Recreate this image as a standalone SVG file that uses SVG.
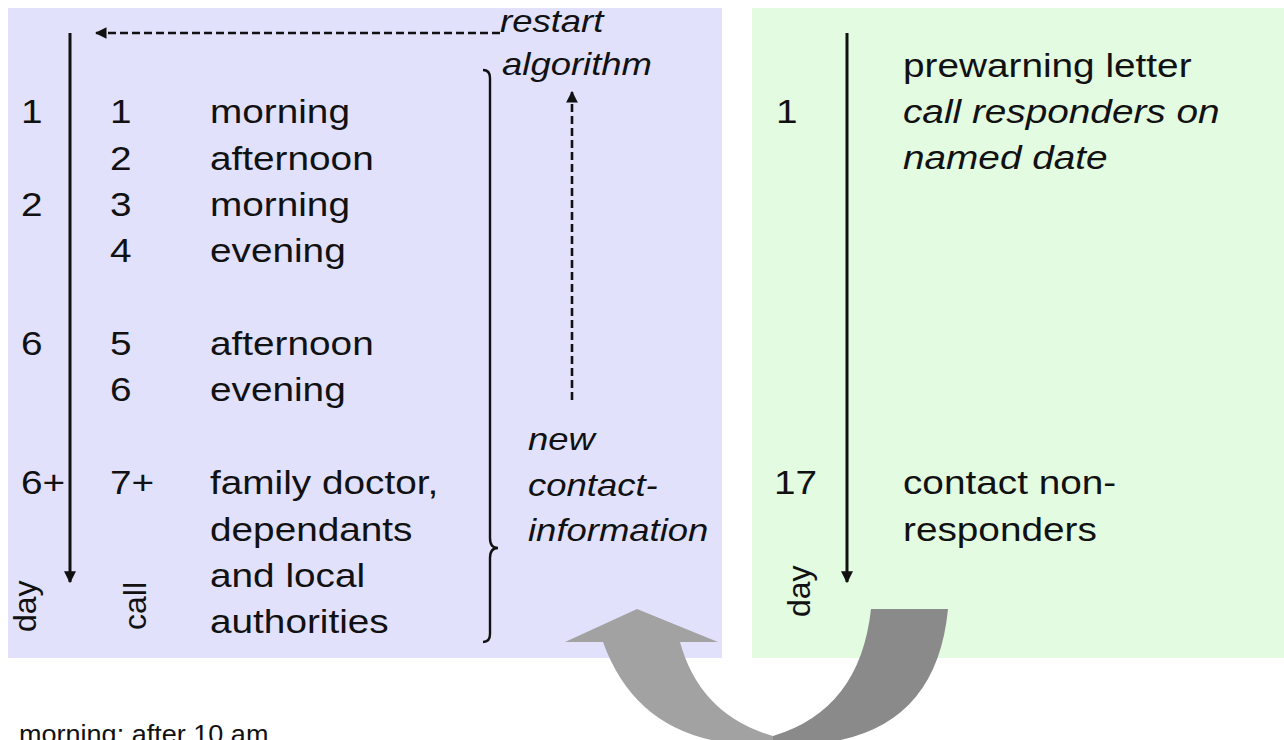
<svg xmlns="http://www.w3.org/2000/svg" width="1284" height="740" viewBox="0 0 1284 740">
<defs>
<style>
.t{font-family:"Liberation Sans",Arial,sans-serif;font-size:34px;fill:#111}
.i{font-family:"Liberation Sans",Arial,sans-serif;font-size:34px;font-style:italic;fill:#111}
.s{font-family:"Liberation Sans",Arial,sans-serif;font-size:32px;font-style:italic;fill:#111}
.r{font-family:"Liberation Sans",Arial,sans-serif;font-size:32px;fill:#111}
.f{font-family:"Liberation Sans",Arial,sans-serif;font-size:26px;fill:#111}
.axis{stroke:#111;stroke-width:3;fill:none}
.dash{stroke:#111;stroke-width:2.6;stroke-dasharray:8 4;fill:none}
.brace{stroke:#111;stroke-width:2.4;fill:none}
</style>
<marker id="ah" viewBox="0 0 10 10" refX="9" refY="5" markerWidth="4" markerHeight="4" orient="auto" markerUnits="strokeWidth">
<path d="M0,0 L10,5 L0,10 Z" fill="#111"/>
</marker>
<marker id="ahd" viewBox="0 0 10 10" refX="9" refY="5" markerWidth="4.5" markerHeight="4.5" orient="auto" markerUnits="strokeWidth">
<path d="M0,0 L10,5 L0,10 Z" fill="#111"/>
</marker>
</defs>
<rect width="1284" height="740" fill="#ffffff"/>
<g id="panel-left">
<rect x="8" y="8" width="714" height="650" fill="#e1e1fb"/>
</g>
<g id="panel-right">
<rect x="752" y="8" width="532" height="650" fill="#e3fbe1"/>
</g>
<g id="connectors">
<line class="axis" x1="70" y1="33" x2="70" y2="582" marker-end="url(#ah)"/>
<line class="axis" x1="847" y1="33" x2="847" y2="582" marker-end="url(#ah)"/>
<line class="dash" x1="500" y1="33" x2="96" y2="33" marker-end="url(#ahd)"/>
<line class="dash" x1="572" y1="400" x2="572" y2="92" marker-end="url(#ahd)"/>
<path class="brace" d="M483,70 Q490,70 490,78 L490,538 Q490,548 498,548 Q490,548 490,558 L490,634 Q490,642 483,642"/>
</g>
<g id="cycle-arrow">
<path d="M637,609 L718,642 L680,642 Q700,715 773,736 L773,745 L760,745 Q640,745 603,642 L565,642 Z" fill="#a2a2a2"/>
<path d="M871,609 L948,609 Q935,745 790,745 L773,745 L773,736 Q860,710 871,609 Z" fill="#8a8a8a"/>
</g>
<g id="left-days">
<text class="t" transform="translate(21 123) scale(1.14 1)">1</text>
<text class="t" transform="translate(21 216) scale(1.14 1)">2</text>
<text class="t" transform="translate(21 355) scale(1.14 1)">6</text>
<text class="t" transform="translate(21 494) scale(1.14 1)">6+</text>
<text class="r" transform="translate(36 632) rotate(-90)">day</text>
</g>
<g id="left-calls">
<text class="t" transform="translate(110 123) scale(1.14 1)">1</text>
<text class="t" transform="translate(110 170) scale(1.14 1)">2</text>
<text class="t" transform="translate(110 216) scale(1.14 1)">3</text>
<text class="t" transform="translate(110 262) scale(1.14 1)">4</text>
<text class="t" transform="translate(110 355) scale(1.14 1)">5</text>
<text class="t" transform="translate(110 401) scale(1.14 1)">6</text>
<text class="t" transform="translate(110 494) scale(1.14 1)">7+</text>
<text class="r" transform="translate(146 630) rotate(-90)">call</text>
</g>
<g id="left-times">
<text class="t" transform="translate(210 123) scale(1.14 1)">morning</text>
<text class="t" transform="translate(210 170) scale(1.14 1)">afternoon</text>
<text class="t" transform="translate(210 216) scale(1.14 1)">morning</text>
<text class="t" transform="translate(210 262) scale(1.14 1)">evening</text>
<text class="t" transform="translate(210 355) scale(1.14 1)">afternoon</text>
<text class="t" transform="translate(210 401) scale(1.14 1)">evening</text>
<text class="t" transform="translate(210 494) scale(1.14 1)">family doctor,</text>
<text class="t" transform="translate(210 541) scale(1.14 1)">dependants</text>
<text class="t" transform="translate(210 587) scale(1.14 1)">and local</text>
<text class="t" transform="translate(210 633) scale(1.14 1)">authorities</text>
</g>
<g id="restart-label">
<text class="s" transform="translate(500 32) scale(1.14 1)">restart</text>
<text class="s" transform="translate(502 75) scale(1.14 1)">algorithm</text>
</g>
<g id="new-contact-label">
<text class="s" transform="translate(528 450) scale(1.14 1)">new</text>
<text class="s" transform="translate(528 496) scale(1.14 1)">contact-</text>
<text class="s" transform="translate(528 541) scale(1.14 1)">information</text>
</g>
<g id="right-days">
<text class="t" transform="translate(776 123) scale(1.14 1)">1</text>
<text class="t" transform="translate(774 494) scale(1.14 1)">17</text>
<text class="r" transform="translate(810 617) rotate(-90)">day</text>
</g>
<g id="right-steps">
<text class="t" transform="translate(903 77) scale(1.14 1)">prewarning letter</text>
<text class="i" transform="translate(903 123) scale(1.14 1)">call responders on</text>
<text class="i" transform="translate(903 169) scale(1.14 1)">named date</text>
<text class="t" transform="translate(903 494) scale(1.14 1)">contact non-</text>
<text class="t" transform="translate(903 541) scale(1.14 1)">responders</text>
</g>
<g id="footnote">
<text class="f" transform="translate(19 743) scale(1.04 1)">morning: after 10 am</text>
</g>
</svg>
